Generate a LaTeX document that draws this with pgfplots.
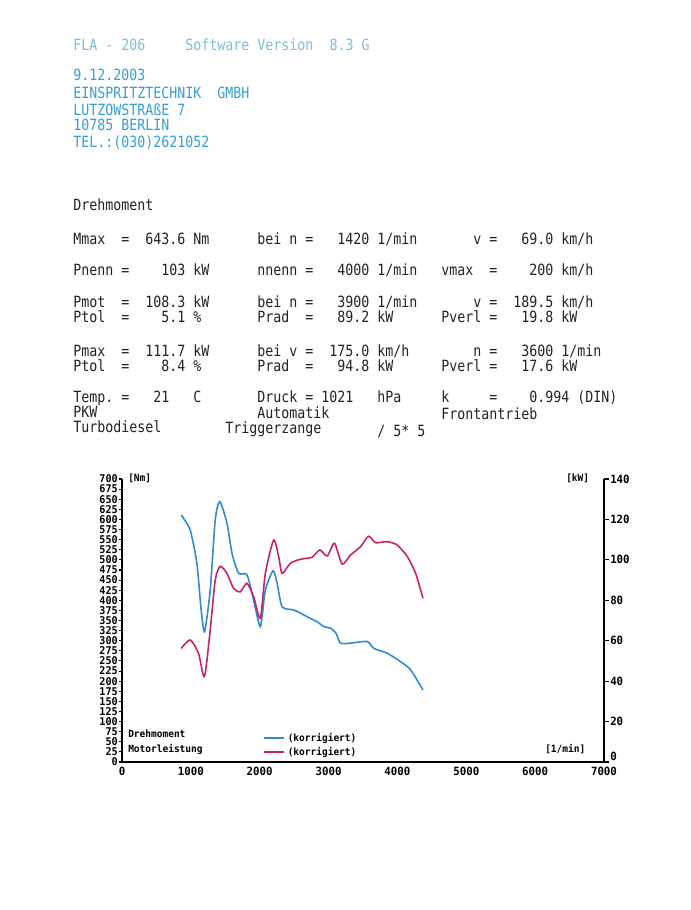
\documentclass[border=0pt]{standalone}
\usepackage{fontspec}
\usepackage{pgfplots}
\pgfplotsset{compat=1.18}
\setmainfont{DejaVu Sans Mono}
\newfontfamily\prn[FakeStretch=0.86]{DejaVu Sans Mono}
\newfontfamily\tck[FakeStretch=0.95]{DejaVu Sans Mono Bold}
\definecolor{drehblau}{RGB}{45,140,210}
\definecolor{leistrot}{RGB}{200,35,105}
\definecolor{kopf}{RGB}{50,160,215}
\definecolor{kopfhell}{RGB}{125,190,220}
\definecolor{druck}{RGB}{35,35,35}
% text at character column #2 of the printer grid, baseline #3 (pixels)
\newcommand\T[4][druck]{\node[anchor=base west,inner sep=0pt,text=#1,
  font=\prn\fontsize{11.6}{12}\selectfont] at ({73+8*#2},#3) {#4};}
\newcommand\Lbl[3]{\node[anchor=base west,inner sep=0pt,
  font=\tck\fontsize{7.5}{8}\selectfont] at (#1,#2) {#3};}

\pgfplotstableread{
rpm   nm
859   611
990   574
1087  492
1145  384
1198  322
1281  425
1354  599
1420  644
1524  591
1597  517
1693  467
1815  463
1911  401
2009  335
2082  425
2194  473
2252  443
2325  384
2493  376
2639  364
2737  355
2834  347
2930  335
3028  331
3110  318
3173  294
3319  294
3562  298
3658  281
3853  269
4047  248
4192  228
4371  178
}\drehmoment

\pgfplotstableread{
rpm   kw
859   56.2
990   60.4
1111  53.8
1198  42.2
1281  65.3
1354  90.0
1426  96.8
1524  93.3
1620  85.9
1718  84.2
1815  88.4
1911  81.8
2009  71.1
2082  93.3
2202  109.8
2275  101.6
2325  93.3
2445  98.3
2591  100.3
2761  101.3
2872  104.9
2980  101.9
3086  108.2
3198  97.9
3319  102.4
3464  106.5
3580  111.7
3683  108.5
3853  109.0
3999  107.3
4144  101.6
4265  93.3
4371  81.0
}\leistung

\pgfplotsset{
  chartframe/.style={
    at={(91.5pt,-571.5pt)}, anchor=south west,
    scale only axis, width=361.5pt, height=212.25pt,
    xmin=0, xmax=7000,
    axis line style={line width=1.4pt,-},
    tick align=outside,
    tick style={line width=0.8pt,black},
    /pgf/number format/1000 sep={},
    /pgf/number format/assume math mode=true,
    legend style={draw=none, fill=none, inner sep=0pt,
      font=\tck\fontsize{7.5}{8}\selectfont},
    legend image code/.code={\draw[#1] (0pt,0pt) -- (15pt,0pt);},
  },
}

\begin{document}
\begin{tikzpicture}
\begin{scope}[x=0.75pt,y=-0.75pt]
\path[use as bounding box,fill=white] (0,0) rectangle (690,910);
% Kopf
\T[kopfhell]{0}{50.5}{FLA~-~206~~~~~Software~Version~~8.3~G}
\T[kopf]{0}{80.5}{9.12.2003}
\T[kopf]{0}{98.5}{EINSPRITZTECHNIK~~GMBH}
\T[kopf]{0}{115}{LUTZOWSTRAßE~7}
\T[kopf]{0}{130.5}{10785~BERLIN}
\T[kopf]{0}{147}{TEL.:(030)2621052}
% Messwerte
\T{0}{210.5}{Drehmoment}
\T{0}{244}{Mmax~~=~~643.6~Nm}
\T{23}{244}{bei~n~=~~~1420~1/min}
\T{50}{244}{v~=~~~69.0~km/h}
\T{0}{275.5}{Pnenn~=~~~~103~kW}
\T{23}{275.5}{nnenn~=~~~4000~1/min}
\T{46}{275.5}{vmax~~=~~~~200~km/h}
\T{0}{307}{Pmot~~=~~108.3~kW}
\T{23}{307}{bei~n~=~~~3900~1/min}
\T{50}{307}{v~=~~189.5~km/h}
\T{0}{322}{Ptol~~=~~~~5.1~\%}
\T{23}{322}{Prad~~=~~~89.2~kW}
\T{46}{322}{Pverl~=~~~19.8~kW}
\T{0}{356.5}{Pmax~~=~~111.7~kW}
\T{23}{356.5}{bei~v~=~~175.0~km/h}
\T{50}{356.5}{n~=~~~3600~1/min}
\T{0}{371.5}{Ptol~~=~~~~8.4~\%}
\T{23}{371.5}{Prad~~=~~~94.8~kW}
\T{46}{371.5}{Pverl~=~~~17.6~kW}
\T{0}{402.5}{Temp.~=~~~21~~~C}
\T{23}{402.5}{Druck~=~1021~~~hPa}
\T{46}{402.5}{k~~~~~=~~~~0.994~(DIN)}
\T{0}{417}{PKW}
\T{23}{418}{Automatik}
\T{46}{419}{Frontantrieb}
\T{0}{432}{Turbodiesel}
\T{19}{433}{Triggerzange}
\T{38}{436}{/~5*~5}
% Diagrammbeschriftung
\Lbl{128}{481.5}{[Nm]}
\Lbl{566}{481.5}{[kW]}
\Lbl{545}{752}{[1/min]}
\Lbl{128}{737}{Drehmoment}
\Lbl{128}{752}{Motorleistung}
\end{scope}

\begin{axis}[chartframe,
  ymin=0, ymax=700,
  axis x line*=bottom, axis y line*=left,
  xtick={0,1000,...,7000}, ytick={0,25,...,700},
  major tick length=2.5pt,
  xtick style={draw=none},
  yticklabel style={inner sep=0.5pt, font=\tck\fontsize{8}{8}\selectfont},
  xticklabel style={inner sep=1pt, font=\tck\fontsize{8.5}{9}\selectfont},
  legend style={at={(0.293,0.113)}, anchor=north west},
]
\addplot[drehblau, line width=1.2pt, smooth, tension=0.4] table[x=rpm,y=nm] {\drehmoment};
\addlegendentry{(korrigiert)}
\end{axis}

\begin{axis}[chartframe,
  ymin=0, ymax=140,
  axis x line=none, axis y line*=right,
  ytick={20,40,...,140},
  extra y ticks={0},
  extra y tick style={yticklabel style={yshift=4pt}},
  major tick length=3.5pt,
  yticklabel style={inner sep=1pt, font=\tck\fontsize{8.5}{9}\selectfont},
  legend style={at={(0.293,0.063)}, anchor=north west},
]
\addplot[leistrot, line width=1.2pt, smooth, tension=0.4] table[x=rpm,y=kw] {\leistung};
\addlegendentry{(korrigiert)}
\end{axis}
\end{tikzpicture}
\end{document}
